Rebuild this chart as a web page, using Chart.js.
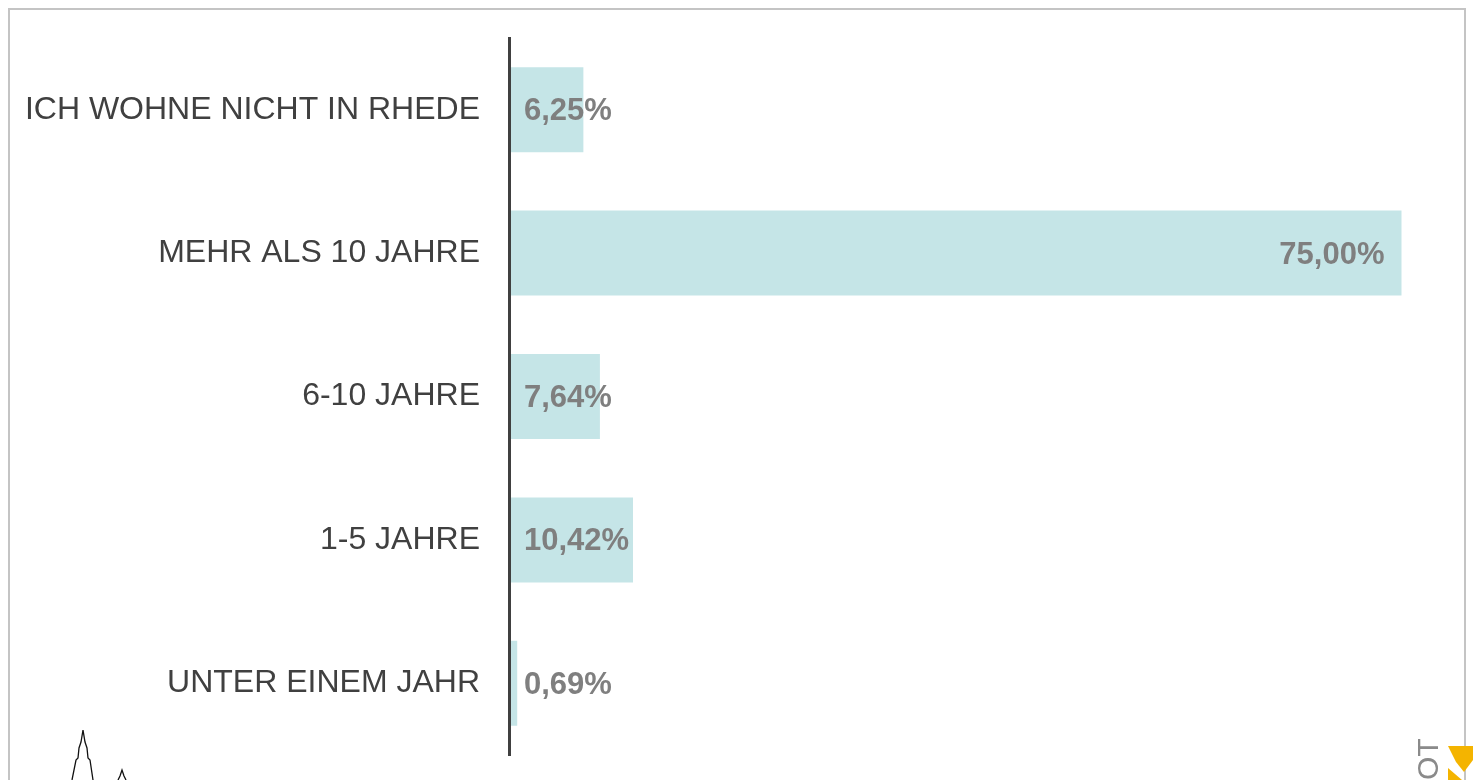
<!DOCTYPE html>
<html>
<head>
<meta charset="utf-8">
<script src="https://cdn.jsdelivr.net/npm/chart.js@4/dist/chart.umd.min.js"></script>
<style>
  html, body { margin: 0; padding: 0; background: #fff; overflow: hidden; }
  #frame { position: absolute; left: 8px; top: 8px; width: 1458px; height: 800px;
           border: 2px solid #c4c4c4; box-sizing: border-box; }
  #wrap { position: absolute; left: 0; top: 0; width: 1473px; height: 780px; }
  #deco { position: absolute; left: 0; top: 0; width: 1473px; height: 780px; pointer-events: none; }
</style>
</head>
<body>
<div id="frame"></div>
<div id="wrap"><canvas id="c" width="1473" height="780"></canvas></div>
<svg id="deco" viewBox="0 0 1473 780" xmlns="http://www.w3.org/2000/svg">
  <polyline points="72,780 76,760 78,758 79,748 81,742 83,730 85,742 87,748 88,758 90,760 93,780" fill="none" stroke="#111" stroke-width="1.3"/>
  <polyline points="118,780 120,776 122,770 124,776 126,780" fill="none" stroke="#111" stroke-width="1.3"/>
  <text x="0" y="0" transform="translate(1438,780) rotate(-90)" font-family="Liberation Sans, Arial, sans-serif" font-size="30" fill="#8a8a8a">OT</text>
  <polygon points="1448,746 1473,746 1473,760 1464,772 1456,762" fill="#f4b400"/>
  <polygon points="1448,768 1462,780 1448,780" fill="#f4b400"/>
</svg>
<script>
const categories = ["ICH WOHNE NICHT IN RHEDE", "MEHR ALS 10 JAHRE", "6-10 JAHRE", "1-5 JAHRE", "UNTER EINEM JAHR"];
const values = [6.25, 75.00, 7.64, 10.42, 0.69];
const valueLabels = ["6,25%", "75,00%", "7,64%", "10,42%", "0,69%"];

const labelPlugin = {
  id: 'valueLabels',
  afterDraw(chart) {
    const ctx = chart.ctx;
    const meta = chart.getDatasetMeta(0);
    const maxV = Math.max(...values);
    ctx.save();
    ctx.font = 'bold 31px "Liberation Sans", Arial, sans-serif';
    ctx.fillStyle = '#7f7f7f';
    ctx.textBaseline = 'middle';
    meta.data.forEach((bar, i) => {
      const p = bar.getProps(['x', 'y', 'base'], true);
      if (values[i] === maxV) {
        ctx.textAlign = 'right';
        ctx.fillText(valueLabels[i], p.x - 17, p.y + 2);
      } else {
        ctx.textAlign = 'left';
        ctx.fillText(valueLabels[i], p.base + 15, p.y + 2);
      }
    });
    ctx.restore();
  }
};

new Chart(document.getElementById('c'), {
  type: 'bar',
  data: {
    labels: categories,
    datasets: [{
      data: values,
      backgroundColor: '#c5e5e7',
      borderWidth: 0,
      barPercentage: 1.0,
      categoryPercentage: 0.593
    }]
  },
  options: {
    indexAxis: 'y',
    responsive: false,
    animation: false,
    events: [],
    layout: { padding: { top: 38, bottom: 25, left: 0, right: 12 } },
    plugins: { legend: { display: false }, tooltip: { enabled: false } },
    scales: {
      x: { display: false, min: 0, max: 80 },
      y: {
        z: 1,
        afterFit: (s) => { s.width = 509; s.paddingTop = 0; s.paddingBottom = 0; },
        grid: { display: false, drawTicks: false },
        border: { display: true, color: '#404040', width: 3, z: 2 },
        ticks: {
          padding: 29,
          color: '#404040',
          font: { family: '"Liberation Sans", Arial, sans-serif', size: 32 }
        }
      }
    }
  },
  plugins: [labelPlugin]
});
</script>
</body>
</html>
